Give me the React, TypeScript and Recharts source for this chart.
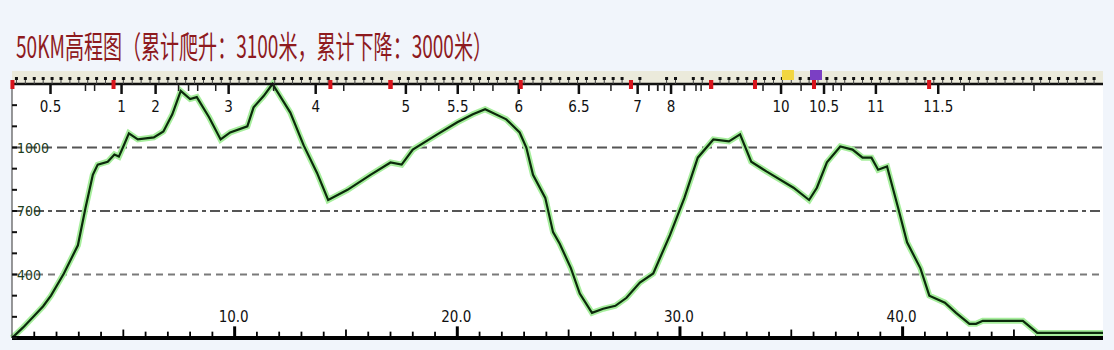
import React from 'react'
import { LineChart, Line, XAxis, YAxis, ReferenceLine, CartesianGrid } from 'recharts'

// distance along the course (km) and elevation (m)
const kmPoints = [
  0, 0.1, 0.5, 1.0, 1.4, 1.75, 2.33, 2.96, 3.3, 3.63, 3.85, 4.3, 4.6, 4.8, 5.0, 5.25, 5.65, 6.37, 6.8,
  7.2, 7.58, 8.0, 8.3, 8.85, 9.37, 9.8, 10.57, 10.85, 11.3, 11.7, 12.5, 13.1, 13.7, 14.2,
  15.07, 16.1, 17.0, 17.5, 18.0, 19.1, 20.0, 20.7, 21.25, 22.2, 22.8, 23.1, 23.4, 23.95,
  24.3, 24.6, 25.1, 25.5, 26.05, 26.55, 27.1, 27.6, 28.2, 28.8, 29.55, 30.2, 30.8, 31.5,
  32.2, 32.7, 33.2, 33.9, 35.1, 35.8, 36.15, 36.6, 37.2, 37.75, 38.2, 38.6, 38.9, 39.3,
  39.8, 40.2, 40.8, 41.2, 41.9, 42.4, 43.0, 43.3, 43.6, 45.4, 46.05, 49,
]
const elevation = [
  100, 110, 150, 205, 250, 300, 405, 538, 714, 871, 919, 933, 967, 957, 1005, 1067, 1038, 1048, 1076,
  1157, 1267, 1229, 1238, 1143, 1038, 1071, 1100, 1190, 1243, 1300, 1165, 1010, 880, 752,
  800, 871, 929, 919, 990, 1062, 1119, 1157, 1181, 1133, 1071, 1000, 871, 762,
  600, 545, 430, 310, 219, 238, 252, 290, 362, 405, 586, 762, 952, 1038,
  1029, 1062, 933, 886, 810, 752, 810, 930, 1005, 990, 952, 952, 895, 910,
  714, 552, 429, 300, 267, 219, 167, 167, 181, 181, 124, 124,
]

// y axis
const elevTicks = [100, 200, 300, 400, 500, 600, 700, 800, 900, 1000, 1100, 1200, 1300]
const elevLabels = [400, 700, 1000]
const gridLevels = [1000, 700, 400]
const elevMin = 100
const elevMax = 1300

// bottom distance axis
const kmTicks = [
  1, 2, 3, 4, 5, 6, 7, 8, 9, 10, 11, 12, 13, 14, 15, 16, 17, 18, 19, 20, 21, 22, 23, 24,
  25, 26, 27, 28, 29, 30, 31, 32, 33, 34, 35, 36, 37, 38, 39, 40, 41, 42, 43, 44, 45, 46, 47, 48,
]
const kmLabels = [10, 20, 30, 40]

// top ruler: time labels and their positions along the course
const timeLabels = ['0.5', '1', '2', '3', '4', '5', '5.5', '6', '6.5', '7', '8', '10', '10.5', '11', '11.5']
const timeLabelKm = [1.73, 4.92, 6.45, 9.73, 13.64, 17.69, 20.02, 22.76, 25.46, 28.1, 29.6, 34.54, 36.47, 38.8, 41.6]
const markKm = [
  3.3, 3.71, 7.48, 7.93, 8.34, 9.15, 11.75, 14.9, 18.36, 19.17, 20.74, 21.6, 23.75, 26.9,
  28.6, 29.0, 29.3, 30.2, 30.72, 30.95, 33.73, 35.44, 36.88, 37.24, 42.76, 45.9,
]
const checkpointKm = [0.02, 4.56, 14.3, 17.0, 22.85, 27.8, 31.4, 33.37, 36.02, 41.19]
const flagKm = [34.85, 36.11]
const flagColors = ['#f2d640', '#7b3fc4']
const rulerStep = 0.4

const data = kmPoints.map((km, i) => ({ km, elev: elevation[i] }))
const rulerKm = Array.from({ length: Math.floor(49 / rulerStep) }, (_, i) => +(i * rulerStep + 0.2).toFixed(2))
const topTicks = [...rulerKm, ...markKm, ...timeLabelKm, ...checkpointKm, ...flagKm]

const FONT = '"DejaVu Sans Condensed", "Liberation Sans Narrow", sans-serif'

// tick heights on the bottom axis, in metres of the y scale (~4.7 m per px)
const tickHeight = (k: number) => (kmLabels.includes(k) ? 55 : k % 5 === 0 ? 40 : 30)

function BottomLabel(props: any) {
  const { x, y, payload } = props
  const v = payload.value
  if (!kmLabels.includes(v)) return <g />
  return (
    <text x={x - 1} y={Number(y) - 16} textAnchor="middle" fontSize={15} fontFamily={FONT} fill="#111">
      {v.toFixed(1)}
    </text>
  )
}

function TopTick(props: any) {
  const { x, y, payload } = props
  const v = payload.value
  const li = timeLabelKm.indexOf(v)
  if (li >= 0) {
    return (
      <g>
        <rect x={x - 1.25} y={y} width={2.5} height={10} fill="#111" />
        <text x={x} y={y + 28} textAnchor="middle" fontSize={15} fontFamily={FONT} fill="#111">
          {timeLabels[li]}
        </text>
      </g>
    )
  }
  const fi = flagKm.indexOf(v)
  if (fi >= 0) {
    return <rect x={x - 6} y={y - 14} width={12} height={10} fill={flagColors[fi]} />
  }
  if (checkpointKm.includes(v)) {
    return <rect x={x - 2} y={y - 4} width={4} height={9} fill="#d8141c" />
  }
  if (markKm.includes(v)) {
    return <rect x={x - 0.75} y={y} width={1.5} height={7} fill="#222" />
  }
  return (
    <g>
      <rect x={x - 0.5} y={y - 5} width={1} height={5} fill="#444" />
      <rect x={x - 1.5} y={y - 7} width={3} height={3} fill="#111" />
    </g>
  )
}

function ElevTick(props: any) {
  const { x, y, payload } = props
  const v = payload.value
  return (
    <g>
      <rect x={x} y={y - 1} width={5} height={2} fill="#111" />
      {elevLabels.includes(v) && (
        <text x={x + 5} y={y + 5} textAnchor="start" fontSize={14} fontFamily={FONT} fill="#1d3d1d">
          {v}
        </text>
      )}
    </g>
  )
}

export default function App() {
  return (
    <div style={{ position: 'absolute', left: 0, top: 0, width: 1114, height: 350, background: '#f1f5fb', overflow: 'hidden' }}>
      <svg width={1114} height={70} style={{ position: 'absolute', left: 0, top: 0 }}>
        <text
          x={16}
          y={58}
          fontSize={31}
          fontFamily='"Noto Sans CJK SC", sans-serif'
          fill="#8e1a1e"
          textLength={476}
          lengthAdjust="spacingAndGlyphs"
        >
          50KM高程图（累计爬升：3100米，累计下降：3000米）
        </text>
      </svg>
      <div style={{ position: 'absolute', left: 12, top: 71, width: 1091, height: 13, background: '#ebeadb' }} />
      <div style={{ position: 'absolute', left: 0, top: 0 }}>
        <LineChart width={1114} height={350} data={data} margin={{ top: 83, right: 11, bottom: 11, left: 11 }}>
          <CartesianGrid horizontal={false} vertical={false} fill="#ffffff" />
          <YAxis
            type="number"
            domain={[elevMin, elevMax]}
            ticks={elevTicks}
            interval={0}
            width={1}
            tickSize={0}
            tickMargin={0}
            tickLine={false}
            tick={<ElevTick />}
            axisLine={{ stroke: '#333', strokeWidth: 1 }}
          />
          <XAxis
            xAxisId="top"
            orientation="top"
            dataKey="km"
            type="number"
            domain={[0, 49]}
            ticks={topTicks}
            interval={0}
            height={1}
            tickSize={0}
            tickMargin={0}
            tickLine={false}
            tick={<TopTick />}
            axisLine={{ stroke: '#111', strokeWidth: 2.5 }}
          />
          <XAxis
            xAxisId="bottom"
            dataKey="km"
            type="number"
            domain={[0, 49]}
            ticks={kmTicks}
            interval={0}
            height={1}
            tickSize={0}
            tickMargin={0}
            tickLine={false}
            tick={<BottomLabel />}
            axisLine={{ stroke: '#000', strokeWidth: 4 }}
          />
          {gridLevels.map((lv) => (
            <ReferenceLine
              key={lv}
              xAxisId="bottom"
              y={lv}
              stroke={lv === 400 ? '#7a7a7a' : '#555'}
              strokeWidth={2}
              strokeDasharray={lv === 700 ? '10 4 4 4' : lv === 400 ? '7 5' : '10 5'}
            />
          ))}
          {kmTicks.map((k) => (
            <ReferenceLine
              key={'t' + k}
              xAxisId="bottom"
              segment={[
                { x: k, y: elevMin },
                { x: k, y: elevMin + tickHeight(k) },
              ]}
              stroke="#000"
              strokeWidth={kmLabels.includes(k) ? 3 : 1.8}
              ifOverflow="visible"
            />
          ))}
          <Line
            xAxisId="bottom"
            type="linear"
            dataKey="elev"
            stroke="#a6ee9c"
            strokeWidth={6}
            dot={false}
            activeDot={false}
            isAnimationActive={false}
          />
          <Line
            xAxisId="bottom"
            type="linear"
            dataKey="elev"
            stroke="#0c2a0c"
            strokeWidth={2.2}
            dot={false}
            activeDot={false}
            isAnimationActive={false}
          />
        </LineChart>
      </div>
    </div>
  )
}
